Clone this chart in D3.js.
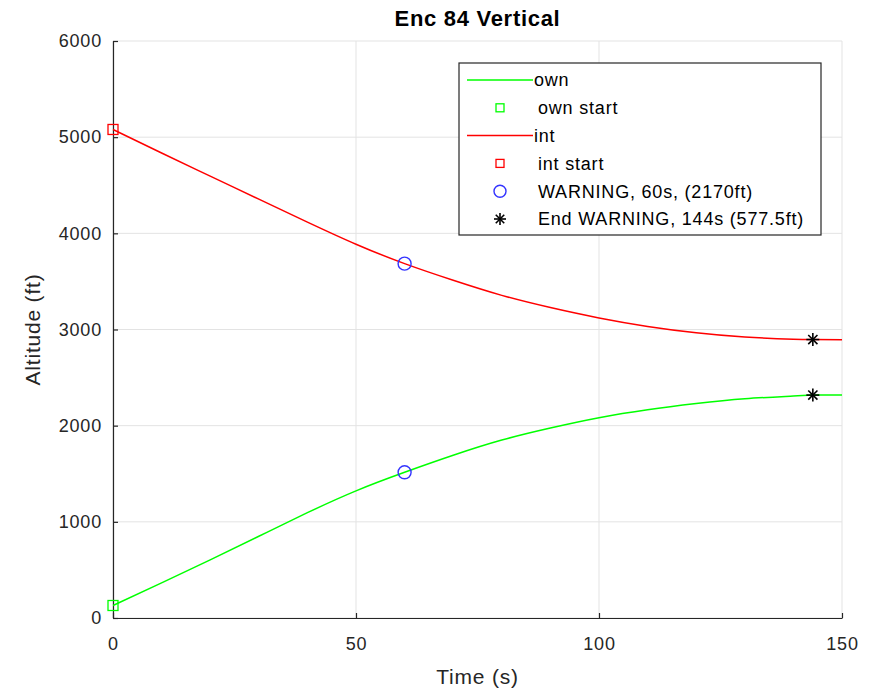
<!DOCTYPE html>
<html>
<head>
<meta charset="utf-8">
<script src="https://cdn.jsdelivr.net/npm/d3@7"></script>
<style>
  body { margin: 0; background: #fff; }
  text { font-family: "Liberation Sans", Arial, Helvetica, sans-serif; }
</style>
</head>
<body>
<div id="my_dataviz"></div>
<script>
// time samples (s) and altitudes (ft) for both aircraft
const time = [0, 10, 20, 30, 40, 50, 60, 70, 80, 90, 100, 110, 120, 130, 140, 144, 150];
const ownAlt = [130, 365, 605, 850, 1095, 1322, 1515, 1692, 1850, 1975, 2082, 2165, 2230, 2280, 2308, 2318, 2320];
const intAlt = [5080, 4835, 4595, 4355, 4117, 3887, 3685, 3512, 3355, 3228, 3120, 3032, 2966, 2922, 2899, 2895.5, 2893];

// events
const warnTime = 60;
const endWarnTime = 144;

const xTicks = [0, 50, 100, 150];
const yTicks = [0, 1000, 2000, 3000, 4000, 5000, 6000];

const legendLabels = ["own", "own start", "int", "int start", "WARNING, 60s, (2170ft)", "End WARNING, 144s (577.5ft)"];

// set the dimensions and margins of the graph
const margin = {top: 41, right: 35, bottom: 75, left: 113},
    width = 877 - margin.left - margin.right,
    height = 693 - margin.top - margin.bottom;

const svg = d3.select("#my_dataviz")
  .append("svg")
    .attr("width", 877)
    .attr("height", 693)
  .append("g")
    .attr("transform", `translate(${margin.left},${margin.top})`);

const x = d3.scaleLinear().domain([0, 150]).range([0, width]);
const y = d3.scaleLinear().domain([0, 6000]).range([height, 0]);

const axisColor = "#262626";

// grid
svg.append("g")
  .selectAll("line")
  .data(xTicks)
  .join("line")
    .attr("x1", d => x(d)).attr("x2", d => x(d))
    .attr("y1", 0).attr("y2", height)
    .attr("stroke", "#e3e3e3").attr("stroke-width", 1);
svg.append("g")
  .selectAll("line")
  .data(yTicks)
  .join("line")
    .attr("x1", 0).attr("x2", width)
    .attr("y1", d => y(d)).attr("y2", d => y(d))
    .attr("stroke", "#e3e3e3").attr("stroke-width", 1);

// X axis
const xAxis = svg.append("g")
  .attr("transform", `translate(0, ${height})`)
  .call(d3.axisBottom(x).tickValues(xTicks).tickFormat(d3.format("d"))
    .tickSizeInner(-5).tickSizeOuter(0).tickPadding(19));
// Y axis
const yAxis = svg.append("g")
  .call(d3.axisLeft(y).tickValues(yTicks).tickFormat(d3.format("d"))
    .tickSizeInner(-5).tickSizeOuter(0).tickPadding(11));

[xAxis, yAxis].forEach(a => {
  a.select(".domain").attr("stroke", axisColor).attr("stroke-width", 1.2);
  a.selectAll(".tick line").attr("stroke", axisColor).attr("stroke-width", 1.2);
  a.selectAll(".tick text")
    .attr("fill", axisColor)
    .style("font-size", "18px")
    .style("letter-spacing", "0.8px");
});

// axis titles
svg.append("text")
  .attr("x", width / 2).attr("y", height + 66)
  .attr("text-anchor", "middle")
  .attr("fill", axisColor)
  .style("font-size", "21px")
  .style("letter-spacing", "0.8px")
  .text("Time (s)");
svg.append("text")
  .attr("transform", `translate(${-73},${height / 2}) rotate(-90)`)
  .attr("text-anchor", "middle")
  .attr("fill", axisColor)
  .style("font-size", "21px")
  .style("letter-spacing", "0.8px")
  .text("Altitude (ft)");
svg.append("text")
  .attr("x", width / 2).attr("y", -15)
  .attr("text-anchor", "middle")
  .attr("fill", "#000")
  .style("font-size", "22px")
  .style("font-weight", "bold")
  .style("letter-spacing", "0.7px")
  .text("Enc 84 Vertical");

// lines
const line = d3.line()
  .x((d, i) => x(time[i]))
  .y(d => y(d))
  .curve(d3.curveNatural);

svg.append("path").datum(ownAlt)
  .attr("fill", "none").attr("stroke", "#00ff00").attr("stroke-width", 1.5)
  .attr("d", line);
svg.append("path").datum(intAlt)
  .attr("fill", "none").attr("stroke", "#ff0000").attr("stroke-width", 1.5)
  .attr("d", line);

const valueAt = (arr, t) => arr[time.indexOf(t)];

// markers
function square(g, cx, cy, s, color) {
  g.append("rect")
    .attr("x", cx - s / 2).attr("y", cy - s / 2)
    .attr("width", s).attr("height", s)
    .attr("fill", "none").attr("stroke", color).attr("stroke-width", 1.3);
}
function circle(g, cx, cy, r, color) {
  g.append("circle")
    .attr("cx", cx).attr("cy", cy).attr("r", r)
    .attr("fill", "none").attr("stroke", color).attr("stroke-width", 1.4);
}
function star(g, cx, cy, r, color) {
  [0, 45, 90, 135].forEach(a => {
    const rad = a * Math.PI / 180;
    g.append("line")
      .attr("x1", cx - r * Math.cos(rad)).attr("y1", cy - r * Math.sin(rad))
      .attr("x2", cx + r * Math.cos(rad)).attr("y2", cy + r * Math.sin(rad))
      .attr("stroke", color).attr("stroke-width", 1.6);
  });
}

square(svg, x(0), y(ownAlt[0]), 10, "#00ff00");
square(svg, x(0), y(intAlt[0]), 10, "#ff0000");
circle(svg, x(warnTime), y(valueAt(intAlt, warnTime)), 6.5, "#3333ff");
circle(svg, x(warnTime), y(valueAt(ownAlt, warnTime)), 6.5, "#3333ff");
star(svg, x(endWarnTime), y(valueAt(intAlt, endWarnTime)), 6.5, "#000");
star(svg, x(endWarnTime), y(valueAt(ownAlt, endWarnTime)), 6.5, "#000");

// legend
const lg = svg.append("g").attr("transform", `translate(${459 - margin.left},${63 - margin.top})`);
lg.append("rect")
  .attr("width", 362).attr("height", 172)
  .attr("fill", "#fff").attr("stroke", axisColor).attr("stroke-width", 1.2);
const rowY = i => 17 + i * 27.8;
const symX = 41;
legendLabels.forEach((label, i) => {
  const cy = rowY(i);
  if (i === 0 || i === 2) {
    lg.append("line").attr("x1", 8).attr("x2", 74).attr("y1", cy).attr("y2", cy)
      .attr("stroke", i === 0 ? "#00ff00" : "#ff0000").attr("stroke-width", 1.5);
  } else if (i === 1) {
    square(lg, symX, cy, 8, "#00ff00");
  } else if (i === 3) {
    square(lg, symX, cy, 8, "#ff0000");
  } else if (i === 4) {
    circle(lg, symX, cy, 6, "#3333ff");
  } else {
    star(lg, symX, cy, 6, "#000");
  }
  lg.append("text")
    .attr("x", i === 0 || i === 2 ? 75 : 79).attr("y", cy)
    .attr("dy", "0.35em")
    .attr("fill", "#000")
    .style("font-size", "18px")
    .style("letter-spacing", "0.8px")
    .text(label);
});
</script>
</body>
</html>
